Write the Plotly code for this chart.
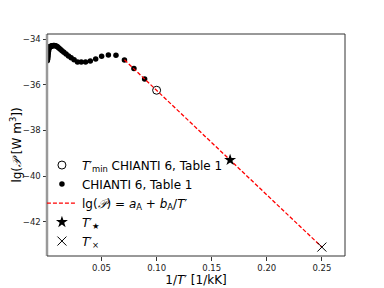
import plotly.graph_objects as go

# CHIANTI 6, Table 1 points (x = 1/T' in 1/kK, y = lg P)
chianti_x = [0.0891, 0.0794, 0.0708, 0.0631, 0.0562, 0.0501, 0.0447, 0.0398,
             0.0355, 0.0316, 0.0282, 0.0251, 0.0224, 0.0200, 0.0178, 0.0158,
             0.0141, 0.0126, 0.0112, 0.0100, 0.0089, 0.0079, 0.0071, 0.0063,
             0.0056, 0.0050, 0.0045, 0.0040, 0.0035, 0.0032, 0.0028, 0.0025,
             0.0022, 0.0020, 0.0018, 0.0016, 0.0014, 0.0013, 0.0011, 0.0010,
             0.00089, 0.00079, 0.00071, 0.00063]
chianti_y = [-35.75, -35.29, -34.92, -34.71, -34.70, -34.75, -34.87, -34.96,
             -35.00, -35.01, -35.00, -34.91, -34.82, -34.74, -34.66, -34.58,
             -34.51, -34.45, -34.39, -34.34, -34.31, -34.29, -34.28, -34.28,
             -34.29, -34.30, -34.31, -34.32, -34.33, -34.34, -34.36, -34.38,
             -34.42, -34.48, -34.55, -34.62, -34.70, -34.76, -34.82, -34.87,
             -34.90, -34.92, -34.93, -34.95]

tmin_x = [0.1]
tmin_y = [-36.24]

fit_x = [0.0708, 0.25]
fit_y = [-34.91, -43.10]

star_x = [0.1667]
star_y = [-39.29]

cross_x = [0.25]
cross_y = [-43.10]

x_ticks = [0.05, 0.10, 0.15, 0.20, 0.25]
x_ticklabels = ["0.05", "0.10", "0.15", "0.20", "0.25"]
y_ticks = [-34, -36, -38, -40, -42]

fig = go.Figure()
fig.add_trace(go.Scatter(x=tmin_x, y=tmin_y, mode="markers",
                         marker=dict(symbol="circle-open", size=8, color="black", line=dict(width=1)),
                         name="<i>T</i>′<sub>min</sub> CHIANTI 6, Table 1"))
fig.add_trace(go.Scatter(x=chianti_x, y=chianti_y, mode="markers",
                         marker=dict(symbol="circle", size=5.5, color="black"),
                         name="CHIANTI 6, Table 1"))
fig.add_trace(go.Scatter(x=fit_x, y=fit_y, mode="lines",
                         line=dict(color="red", width=1.3, dash="4px,2px"),
                         name="lg(<i>𝒫</i>) = <i>a</i><sub>A</sub> + <i>b</i><sub>A</sub>/<i>T</i>′"))
fig.add_trace(go.Scatter(x=star_x, y=star_y, mode="markers",
                         marker=dict(symbol="star", size=9, color="black"),
                         name="<i>T</i>′<sub>★</sub>"))
fig.add_trace(go.Scatter(x=cross_x, y=cross_y, mode="markers",
                         marker=dict(symbol="x-thin-open", size=9, color="black", line=dict(width=1, color="black")),
                         name="<i>T</i>′<sub>×</sub>"))

# axes frame: gray left spine, dark others
fig.add_shape(type="line", xref="paper", yref="paper", x0=0, x1=0, y0=0, y1=1,
              line=dict(color="#999999", width=2.5), layer="above")
fig.add_shape(type="line", xref="paper", yref="paper", x0=1, x1=1, y0=0, y1=1,
              line=dict(color="#333333", width=1), layer="above")
fig.add_shape(type="line", xref="paper", yref="paper", x0=0, x1=1, y0=1, y1=1,
              line=dict(color="#333333", width=1), layer="above")
fig.add_shape(type="line", xref="paper", yref="paper", x0=0, x1=1, y0=0, y1=0,
              line=dict(color="#333333", width=1), layer="above")

fig.update_layout(
    width=384, height=288,
    margin=dict(l=39, r=47, t=26, b=40),
    paper_bgcolor="white", plot_bgcolor="white",
    font=dict(family="DejaVu Sans", color="black"),
    showlegend=True,
    legend=dict(x=-0.017, y=0.475, xanchor="left", yanchor="top",
                bgcolor="rgba(255,255,255,0)", font=dict(size=12),
                tracegroupgap=0, itemwidth=30),
    xaxis=dict(range=[0.0005, 0.271], tickvals=x_ticks, ticktext=x_ticklabels,
               ticks="outside", ticklen=3.5, tickwidth=0.8, tickcolor="#333",
               showgrid=False, zeroline=False, showline=False, automargin=False,
               tickfont=dict(size=8.5, color="#222"),
               title=dict(text="1/<i>T</i>′ [1/kK]", font=dict(size=12), standoff=2)),
    yaxis=dict(range=[-43.49, -33.78], tickvals=y_ticks,
               ticks="outside", ticklen=3.5, tickwidth=0.8, tickcolor="#333",
               showgrid=False, zeroline=False, showline=False, automargin=False,
               tickfont=dict(size=8.5, color="#222"),
               title=dict(text="lg(<i>𝒫</i> [W m<sup>3</sup>])", font=dict(size=12), standoff=0)),
)

fig.write_html("out.html")
